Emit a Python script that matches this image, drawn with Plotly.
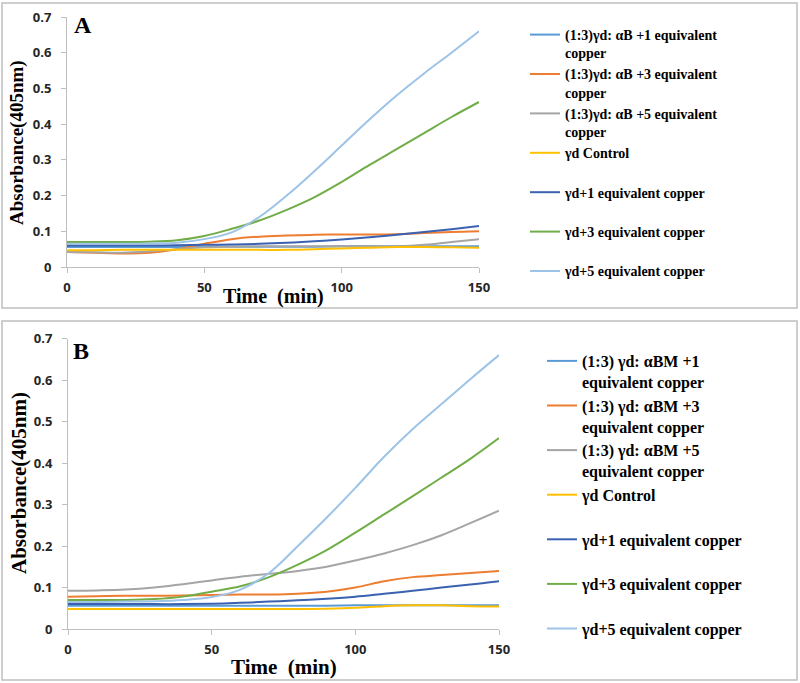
import plotly.graph_objects as go

W, H = 800, 683

# ---------------------------------------------------------
# Data
# ---------------------------------------------------------
time_min = [0, 10, 20, 30, 40, 50, 60, 70, 80, 90, 100, 110, 120, 130, 140, 150]

# Panel A
a_ab1 = [0.056, 0.056, 0.056, 0.056, 0.056, 0.057, 0.057, 0.057, 0.057, 0.057, 0.058, 0.058, 0.058, 0.058, 0.058, 0.058]
a_ab3 = [0.042, 0.040, 0.038, 0.040, 0.050, 0.065, 0.078, 0.085, 0.088, 0.090, 0.091, 0.091, 0.092, 0.095, 0.098, 0.100]
a_ab5 = [0.042, 0.041, 0.040, 0.044, 0.050, 0.055, 0.057, 0.058, 0.058, 0.058, 0.058, 0.058, 0.058, 0.062, 0.070, 0.078]
a_ctrl = [0.047, 0.047, 0.048, 0.048, 0.048, 0.048, 0.048, 0.048, 0.048, 0.050, 0.052, 0.054, 0.056, 0.056, 0.055, 0.054]
a_cu1 = [0.060, 0.060, 0.060, 0.060, 0.061, 0.062, 0.063, 0.065, 0.068, 0.072, 0.077, 0.083, 0.090, 0.098, 0.106, 0.115]
a_cu3 = [0.070, 0.070, 0.070, 0.071, 0.075, 0.087, 0.107, 0.130, 0.160, 0.195, 0.238, 0.285, 0.330, 0.375, 0.420, 0.462]
a_cu5 = [0.065, 0.065, 0.065, 0.066, 0.068, 0.078, 0.097, 0.140, 0.200, 0.268, 0.340, 0.412, 0.480, 0.542, 0.600, 0.660]

# Panel B
b_ab1 = [0.056, 0.056, 0.056, 0.056, 0.056, 0.056, 0.056, 0.056, 0.056, 0.056, 0.057, 0.057, 0.057, 0.057, 0.057, 0.057]
b_ab3 = [0.078, 0.079, 0.080, 0.080, 0.081, 0.082, 0.083, 0.083, 0.085, 0.090, 0.100, 0.115, 0.125, 0.130, 0.135, 0.140]
b_ab5 = [0.092, 0.093, 0.095, 0.100, 0.108, 0.117, 0.126, 0.133, 0.140, 0.150, 0.165, 0.182, 0.202, 0.226, 0.255, 0.285]
b_ctrl = [0.048, 0.048, 0.048, 0.048, 0.048, 0.048, 0.048, 0.048, 0.048, 0.049, 0.051, 0.055, 0.057, 0.057, 0.055, 0.054]
b_cu1 = [0.060, 0.060, 0.060, 0.060, 0.060, 0.061, 0.063, 0.066, 0.069, 0.073, 0.078, 0.085, 0.092, 0.100, 0.107, 0.115]
b_cu3 = [0.070, 0.070, 0.070, 0.072, 0.078, 0.090, 0.103, 0.125, 0.155, 0.190, 0.232, 0.276, 0.320, 0.365, 0.410, 0.460]
b_cu5 = [0.065, 0.065, 0.066, 0.067, 0.070, 0.077, 0.095, 0.135, 0.200, 0.268, 0.340, 0.415, 0.482, 0.542, 0.602, 0.660]

names_a = [
    "(1:3)γd: αB +1 equivalent<br>copper",
    "(1:3)γd: αB +3 equivalent<br>copper",
    "(1:3)γd: αB +5 equivalent<br>copper",
    "γd Control<br> ",
    "γd+1 equivalent copper<br> ",
    "γd+3 equivalent copper<br> ",
    "γd+5 equivalent copper<br> ",
]
names_b = [
    "(1:3) γd: αBM +1<br>equivalent copper",
    "(1:3) γd: αBM +3<br>equivalent copper",
    "(1:3) γd: αBM +5<br>equivalent copper",
    "γd Control<br> ",
    "γd+1 equivalent copper<br> ",
    "γd+3 equivalent copper<br> ",
    "γd+5 equivalent copper<br> ",
]

colors = ["#5B9BD5", "#ED7D31", "#A5A5A5", "#FFC000", "#3A62B0", "#70AD47", "#9DC3E6"]

series_a = [a_ab1, a_ab3, a_ab5, a_ctrl, a_cu1, a_cu3, a_cu5]
series_b = [b_ab1, b_ab3, b_ab5, b_ctrl, b_cu1, b_cu3, b_cu5]

fig = go.Figure()

for name, ys, c in zip(names_a, series_a, colors):
    fig.add_trace(go.Scatter(
        x=time_min, y=ys, mode="lines", name=name,
        line=dict(color=c, width=2, shape="spline", smoothing=1.0),
        xaxis="x", yaxis="y", legend="legend"
    ))

for name, ys, c in zip(names_b, series_b, colors):
    fig.add_trace(go.Scatter(
        x=time_min, y=ys, mode="lines", name=name,
        line=dict(color=c, width=2, shape="spline", smoothing=1.0),
        xaxis="x2", yaxis="y2", legend="legend2"
    ))


def px(x):
    return x / W


def py(y):
    return 1 - y / H


serif = "Liberation Serif, Times New Roman, serif"
tick_font = dict(family="Open Sans", size=13, color="#262626", weight="bold")

axis_common = dict(
    showgrid=False, zeroline=False, showline=True, linecolor="#BFBFBF", linewidth=1,
    ticks="outside", tickcolor="#BFBFBF", ticklen=5, tickfont=tick_font,
    automargin=False,
)

fig.update_layout(
    width=W, height=H,
    margin=dict(l=0, r=0, t=0, b=0, autoexpand=False),
    paper_bgcolor="white", plot_bgcolor="white",
    showlegend=True,
    font=dict(family=serif),
    xaxis=dict(domain=[px(67), px(479)], range=[0, 150], tickvals=[0, 50, 100, 150],
               anchor="y", ticklabelstandoff=3, **axis_common),
    yaxis=dict(domain=[py(267), py(17)], range=[0, 0.7], dtick=0.1, anchor="x",
               ticklabelstandoff=7, **axis_common),
    xaxis2=dict(domain=[px(68), px(499)], range=[0, 150], tickvals=[0, 50, 100, 150],
                anchor="y2", ticklabelstandoff=3, **axis_common),
    yaxis2=dict(domain=[py(629), py(338.5)], range=[0, 0.7], dtick=0.1, anchor="x2",
                ticklabelstandoff=7, **axis_common),
    legend=dict(x=px(525), y=py(19), xanchor="left", yanchor="top", valign="top",
                font=dict(family=serif, size=14, color="black", weight="bold"),
                bgcolor="rgba(0,0,0,0)", tracegroupgap=0, itemclick=False),
    legend2=dict(x=px(542), y=py(344), xanchor="left", yanchor="top", valign="top",
                 font=dict(family=serif, size=16, color="black", weight="bold"),
                 bgcolor="rgba(0,0,0,0)", tracegroupgap=0, itemclick=False),
)

# Panel frames
for (x0, y0, x1, y1) in [(2, 3, 797, 308), (2, 321, 797, 680)]:
    fig.add_shape(type="rect", xref="paper", yref="paper",
                  x0=px(x0), x1=px(x1), y0=py(y0), y1=py(y1),
                  line=dict(color="#BFBFBF", width=1.5), fillcolor="rgba(0,0,0,0)")

title_font = dict(family=serif, color="black", weight="bold")
annots = [
    dict(text="A", x=px(83), y=py(25), size=24),
    dict(text="B", x=px(81), y=py(351), size=24),
    dict(text="Time  (min)", x=px(273), y=py(297), size=20),
    dict(text="Time  (min)", x=px(284), y=py(667), size=21),
]
for a in annots:
    fig.add_annotation(text=a["text"], x=a["x"], y=a["y"], xref="paper", yref="paper",
                       showarrow=False, xanchor="center", yanchor="middle",
                       font=dict(size=a["size"], **title_font))

fig.add_annotation(text="Absorbance(405nm)", x=px(17), y=py(143), xref="paper", yref="paper",
                   showarrow=False, textangle=-90, xanchor="center", yanchor="middle",
                   font=dict(size=19, **title_font))
fig.add_annotation(text="Absorbance(405nm)", x=px(19), y=py(483), xref="paper", yref="paper",
                   showarrow=False, textangle=-90, xanchor="center", yanchor="middle",
                   font=dict(size=21, **title_font))

# page body has a default 8px margin; drop it so the figure sits at the window origin
fig.write_html("out.html", config={"displayModeBar": False},
               post_script="document.body.style.margin='0';")
